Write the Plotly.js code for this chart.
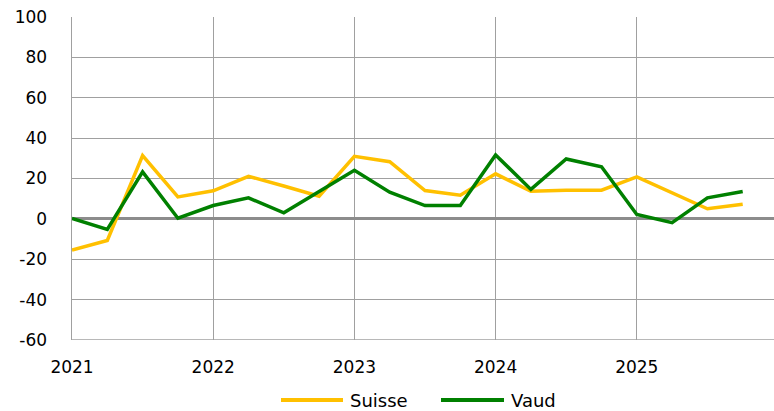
<!DOCTYPE html>
<html><head><meta charset="utf-8">
<script src="https://cdn.plot.ly/plotly-3.0.1.min.js"></script>
<style>html,body{margin:0;padding:0;background:#fff}</style>
</head><body><div id="chart" style="width:774px;height:411px"></div>
<script>
const quarters = [2021,2021.25,2021.5,2021.75,2022,2022.25,2022.5,2022.75,2023,2023.25,2023.5,2023.75,2024,2024.25,2024.5,2024.75,2025,2025.25,2025.5,2025.75];
const suisse = [-15.5,-10.7,31.4,10.9,13.9,21.1,16.3,11.2,31,28.3,14,11.7,22.3,13.7,14.2,14.2,20.8,13,5,7.3];
const vaud = [0.2,-5.2,23.3,0.3,6.6,10.4,3,13.5,24.1,13.2,6.6,6.6,31.7,14.6,29.7,25.8,2.2,-1.9,10.4,13.6];
const yearTicks = [2021,2022,2023,2024,2025];
const yearLabels = ['2021','2022','2023','2024','2025'];
const yTicks = [-60,-40,-20,0,20,40,60,80,100];
const yLabels = ['-60','-40','-20','0','20','40','60','80','100'];
const seriesNames = ['Suisse','Vaud'];
const seriesColors = ['#FFC000','#008000'];

const W = 774, H = 411, L = 72, T = 17, B = 71;
const pw = W - L, ph = H - T - B;
const px = v => (v - L) / pw;
const py = v => (H - B - v) / ph;

const font = {family:'DejaVu Sans, Verdana, sans-serif', size:17, color:'#000'};
const legFont = {family:'DejaVu Sans, Verdana, sans-serif', size:18, color:'#000'};
const traces = [
  {x:quarters, y:suisse, name:seriesNames[0], type:'scatter', mode:'lines', line:{color:seriesColors[0], width:3.5}},
  {x:quarters, y:vaud, name:seriesNames[1], type:'scatter', mode:'lines', line:{color:seriesColors[1], width:3.5}}
];
const legendItems = [{x0:281, x1:343, tx:348}, {x0:441, x1:504, tx:509}];
const shapes = [{type:'line', xref:'paper', yref:'y', x0:0, x1:1, y0:-60, y1:-60, line:{color:'#a0a0a0', width:1.5}}];
const annotations = [];
legendItems.forEach((it, i) => {
  shapes.push({type:'line', xref:'paper', yref:'paper', x0:px(it.x0), x1:px(it.x1), y0:py(400), y1:py(400), line:{color:seriesColors[i], width:4}});
  annotations.push({xref:'paper', yref:'paper', x:px(it.tx), y:py(400), xanchor:'left', yanchor:'middle', text:seriesNames[i], showarrow:false, font:legFont});
});
const layout = {
  width:W, height:H,
  margin:{l:L, r:0, t:T, b:B, autoexpand:false},
  paper_bgcolor:'#fff', plot_bgcolor:'#fff',
  font:font,
  showlegend:false,
  xaxis:{range:[2021, 2021+pw/141.2], tickvals:yearTicks, ticktext:yearLabels, showgrid:true, gridcolor:'#a0a0a0', gridwidth:1.2,
    zeroline:false, showline:false, ticks:'', ticklabelstandoff:15, tickfont:font, fixedrange:true},
  yaxis:{range:[-60,100], tickvals:yTicks, ticktext:yLabels, showgrid:true, gridcolor:'#a0a0a0', gridwidth:1.2, zeroline:true, zerolinecolor:'#8c8c8c', zerolinewidth:3,
    showline:true, linecolor:'#a0a0a0', linewidth:1.5, ticks:'', ticklabelstandoff:20, tickfont:font, fixedrange:true},
  shapes:shapes,
  annotations:annotations
};
Plotly.newPlot('chart', traces, layout, {displayModeBar:false, staticPlot:true});
</script></body></html>
